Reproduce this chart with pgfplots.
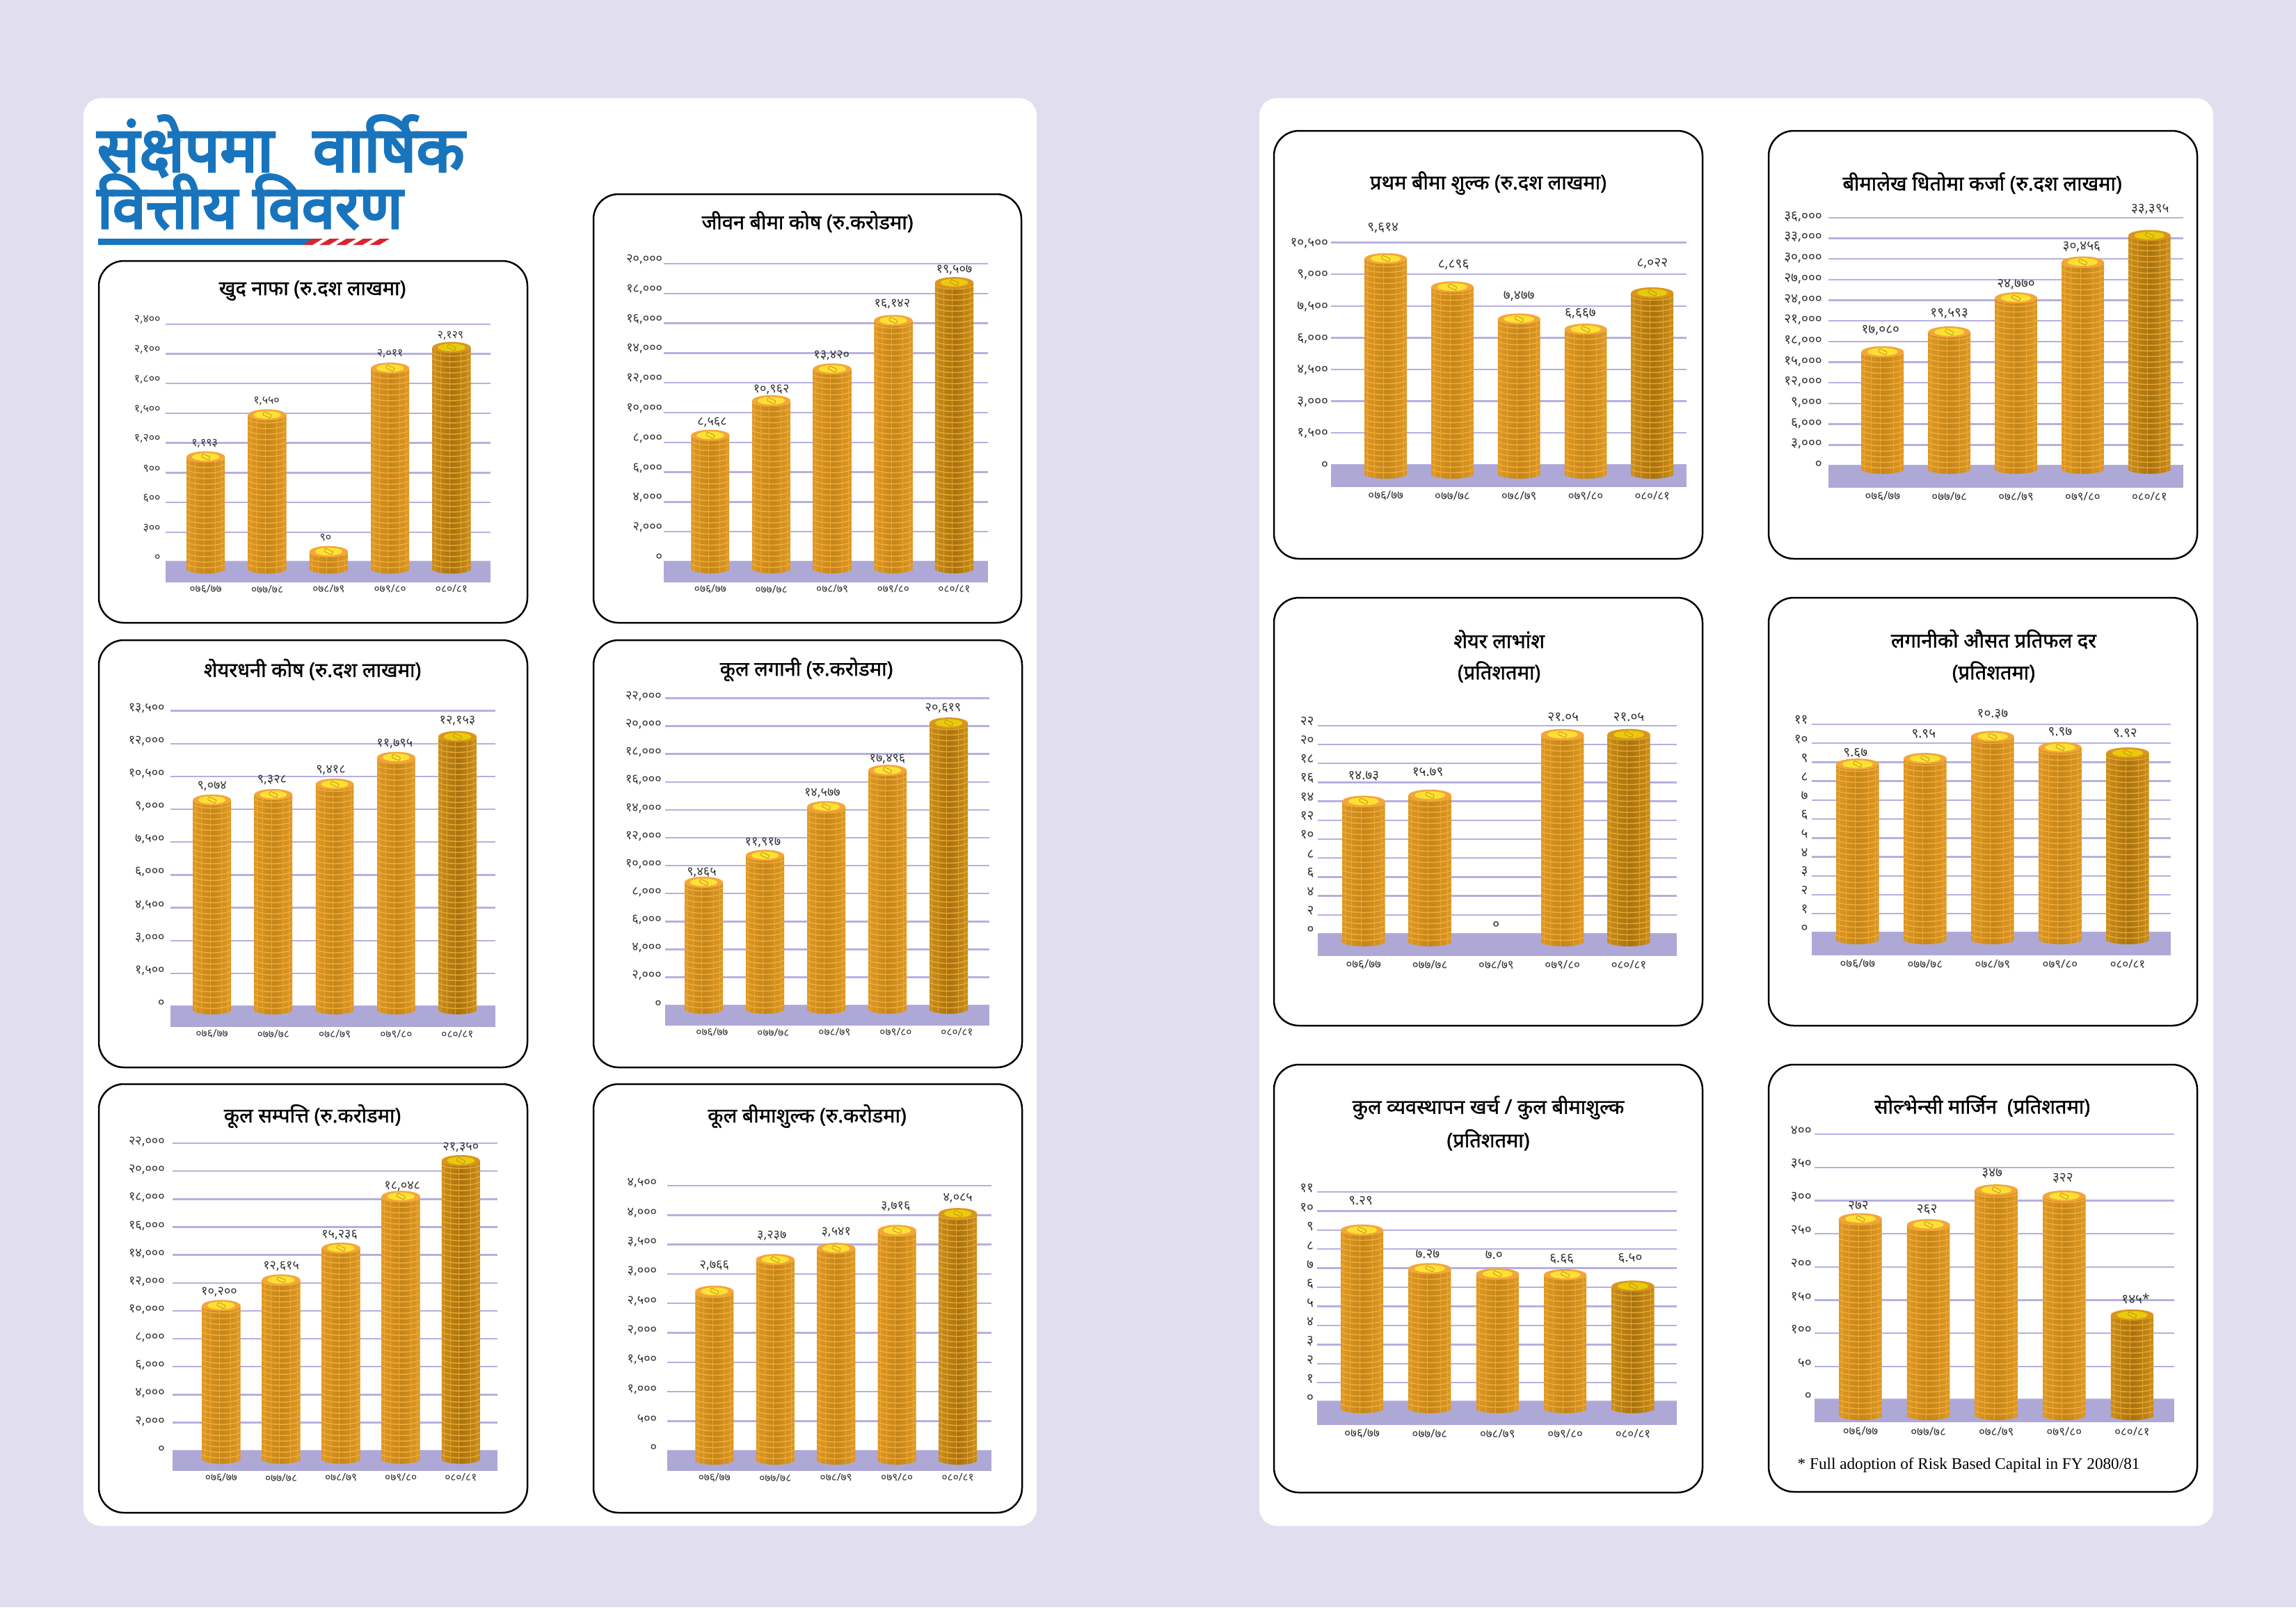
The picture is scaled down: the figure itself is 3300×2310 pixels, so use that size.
\documentclass[border=0pt]{standalone}
\usepackage{fontspec}
\usepackage{pgfplots}
\usepackage{pgfplotstable}
\pgfplotsset{compat=1.18}
\newfontfamily\dev[Script=Devanagari]{Noto Sans}
\newfontfamily\devh[Script=Devanagari,FakeBold=4]{Noto Sans}
\newfontfamily\devt[Script=Devanagari,FakeBold=1.2]{Noto Sans}
\newfontfamily\notefont{Liberation Serif}
\newlength\ux \setlength\ux{0.3pt}
\newcommand\devpx[1]{\dev\fontsize{#1\ux}{#1\ux}\selectfont}
\newcommand\titlepx[1]{\devt\bfseries\fontsize{#1\ux}{#1\ux}\selectfont}
\tikzset{tt/.style={font=\titlepx{29},yshift=-0.8pt}}

\definecolor{pagebg}{HTML}{E1DEEF}
\definecolor{bandc}{HTML}{ADA8D6}
\definecolor{gridc}{HTML}{B5B0E0}
\definecolor{headblue}{HTML}{1874BC}
\definecolor{headred}{HTML}{D9232E}
\definecolor{tickc}{HTML}{333333}
\definecolor{coinM}{HTML}{C4861A}
\definecolor{coinE}{HTML}{DB9826}
\definecolor{ringL}{HTML}{F5AA35}
\definecolor{faceO}{HTML}{F4A63A}
\definecolor{faceI}{HTML}{FDE233}
\definecolor{coinDarkM}{HTML}{A8720F}
\definecolor{coinDarkE}{HTML}{C88D1C}
\definecolor{ringDark}{HTML}{E9A62E}
\definecolor{faceDarkO}{HTML}{D9961F}
\definecolor{faceDarkI}{HTML}{E8CC0A}

% columns: x value dy lx ly lbl  (dy = drawn stack offset, lx ly = label offset, in px)
\pgfplotstableread{
x val dy lx ly lbl
0 1193 -11 -1.5 11 १,१९३
1 1550 -1.5 -1 11.6 १,५५०
2 90 10 -4.5 12 ९०
3 2011 0 0 13 २,०११
4 2129 13 -1.5 9 २,१२९
}\tabnafa
\pgfplotstableread{
x val dy lx ly lbl
0 8568 6 2.5 11 ८,५६८
1 10962 4.5 0 8 १०,९६२
2 13420 -2.5 -1 11.4 १३,४२०
3 16142 9 -1.5 16 १६,१४२
4 19507 -8.6 0 10.6 १९,५०७
}\tabjeevan
\pgfplotstableread{
x val dy lx ly lbl
0 9074 19 0 11.5 ९,०७४
1 9328 18.8 -2 13.5 ९,३२८
2 9418 31 -5.6 11.5 ९,४१८
3 11795 -5.3 -2 11.5 ११,७९५
4 12153 13.4 0 14.6 १२,१५३
}\tabshare
\pgfplotstableread{
x val dy lx ly lbl
0 9465 -5.2 -3 6 ९,४६५
1 11917 -15.7 -3 10 ११,९१७
2 14577 1 -5.6 11 १४,५७७
3 17496 -5.4 0 8 १७,४९६
4 20619 0 -8 13.4 २०,६१९
}\tabinvest
\pgfplotstableread{
x val dy lx ly lbl
0 10200 11.7 -3 11 १०,२००
1 12615 0 0 11 १२,६१५
2 15236 -7 -2 10.7 १५,२३६
3 18048 11 2 6.3 १८,०४८
4 21350 -4 0 11.5 २१,३५०
}\tabassets
\pgfplotstableread{
x val dy lx ly lbl
0 2766 3 0 29 २,७६६
1 3237 8.7 -5 26 ३,२३७
2 3541 -1 0 15 ३,५४१
3 3716 10 -2 26.5 ३,७१६
4 4085 3 0 14 ४,०८५
}\tabpremium
\pgfplotstableread{
x val dy lx ly lbl
0 9614 11.8 -4 36 ९,६१४
1 8896 -7 1.6 23.7 ८,८९६
2 7477 -10 0 25 ७,४७७
3 6667 0 -7.5 14 ६,६६७
4 8022 11 0 34 ८,०२२
}\tabfirst
\pgfplotstableread{
x val dy lx ly lbl
0 17080 2.4 -3 23 १७,०८०
1 19593 6 0 18 १९,५९३
2 24770 3.7 0 11.4 २४,७७०
3 30456 -1 -1.6 14 ३०,४५६
4 33395 8 1 30 ३३,३९५
}\tabloan
\pgfplotstableread{
x val dy lx ly lbl
0 14.73 -2 0 27.7 १४.७३
1 15.79 -7.6 -3 25 १५.७९
2 0 0 0 13 ०
3 21.05 8 1 17.4 २१.०५
4 21.05 8 0 17.4 २१.०५
}\tabdiv
\pgfplotstableread{
x val dy lx ly lbl
0 9.67 -13 -3 8.3 ९.६७
1 9.95 -12.5 -2 27 ९.९५
2 10.37 7.7 0 24.5 १०.३७
3 9.97 2.8 0 15 ९.९७
4 9.92 -3.8 -3.6 20 ९.९२
}\tabreturn
\pgfplotstableread{
x val dy lx ly lbl
0 9.29 0 -2 34 ९.२९
1 7.27 0 -3 13 ७.२७
2 7.0 0 -5 19 ७.०
3 6.66 8 -5 15 ६.६६
4 6.5 -4 -4 32 ६.५०
}\tabexpense
\pgfplotstableread{
x val dy lx ly lbl
0 272 8.6 -3 11.4 २७२
1 262 9.6 -2 14 २६२
2 347 -21.6 -6 16 ३४७
3 322 -6.5 -2 17 ३२२
4 145 -8.6 5 15 १४५*
}\tabsolv

\pgfkeys{/cc/.cd,L/.store in=\chL,R/.store in=\chR,T/.store in=\chT,Z/.store in=\chZ,B/.store in=\chB,
  cA/.store in=\chFirst,cE/.store in=\chLast,ymax/.store in=\chYmax,r/.store in=\chRad,bot/.store in=\chBot,
  fs/.store in=\chFs,xfs/.store in=\chXfs,xsh/.store in=\chXsh,xsh=0,fs=18,xfs=15.5,
  yg/.store in=\chYg,yup/.store in=\chYup,xg/.store in=\chXg,xg=10}

% fixed point result of a float expression, values here overflow plain pgfmath
\newcommand\fpuset[2]{\begingroup\pgfkeys{/pgf/fpu=true,/pgf/fpu/output format=fixed}\pgfmathparse{#2}\xdef#1{\pgfmathresult}\endgroup}

% one coin stack from row #1 of table #2, drawn on the axis at (row, value)
\newcommand\drawstack[2]{%
  \pgfplotstablegetelem{#1}{val}\of{#2}\let\stackval\pgfplotsretval
  \pgfplotstablegetelem{#1}{dy}\of{#2}\let\dyv\pgfplotsretval
  \pgfplotstablegetelem{#1}{lx}\of{#2}\let\lxv\pgfplotsretval
  \pgfplotstablegetelem{#1}{ly}\of{#2}\let\lyv\pgfplotsretval
  \pgfplotstablegetelem{#1}{lbl}\of{#2}\let\lblv\pgfplotsretval
  \fpuset\stackfrac{\stackval/\chYmax}%
  \begin{scope}[shift={(axis cs:#1,\stackval)},x=\ux,y=\ux]
  \ifdim\stackfrac pt>0pt
    \pgfmathsetmacro\yctr{\dyv-8}%
    \pgfmathsetmacro\ybase{-\stackfrac*(\chZ-\chT)-(\chBot-\chZ)+5}%
    \pgfmathsetmacro\nrings{int(floor((\yctr-\ybase)/8))}%
    \pgfmathsetmacro\rctl{0.6*\chRad}%
    \ifnum#1=4
      \colorlet{bodyM}{coinDarkM}\colorlet{bodyE}{coinDarkE}\colorlet{ringc}{ringDark}\colorlet{faceout}{faceDarkO}\colorlet{facein}{faceDarkI}%
    \else
      \colorlet{bodyM}{coinM}\colorlet{bodyE}{coinE}\colorlet{ringc}{ringL}\colorlet{faceout}{faceO}\colorlet{facein}{faceI}%
    \fi
    \shade[left color=bodyE,right color=bodyE,middle color=bodyM]
      (-\chRad,\yctr) -- (-\chRad,\ybase) .. controls (-\rctl,\ybase-6.7) and (\rctl,\ybase-6.7) .. (\chRad,\ybase) -- (\chRad,\yctr) -- cycle;
    \draw[ringc!85!bodyM,line width=0.9\ux]
      (-0.86*\chRad,\yctr) -- (-0.86*\chRad,\ybase-1.5) (-0.55*\chRad,\yctr) -- (-0.55*\chRad,\ybase-3.5)
      (-0.1*\chRad,\yctr) -- (-0.1*\chRad,\ybase-5) (0.5*\chRad,\yctr) -- (0.5*\chRad,\ybase-4) (0.84*\chRad,\yctr) -- (0.84*\chRad,\ybase-1.5);
    \draw[ringc,line width=1.5\ux] \foreach \ir [evaluate=\ir as \yy using \ybase+\ir*8] in {1,...,\nrings}
      { (-\chRad,\yy) .. controls (-\rctl,\yy-6) and (\rctl,\yy-6) .. (\chRad,\yy) };
    \fill[faceout] (0,\yctr) ellipse [x radius=\chRad\ux,y radius=8\ux];
    \fill[facein] (0,\yctr) ellipse [x radius=0.72*\chRad\ux,y radius=5.5\ux];
    \draw[coinM,line width=0.7\ux,rounded corners=1\ux,rotate around={-25:(0,\yctr)}]
      (-6,\yctr-2.5) rectangle (6,\yctr+2.5);
  \fi
  \node[text=tickc,font=\devpx{\chFs}] at (\lxv,\dyv+\lyv) {\lblv};
  \end{scope}}

\newcommand\coinchart[4]{%
  \pgfkeys{/cc/.cd,xsh=0,xg=10,#2}%
  \pgfmathsetmacro\chStep{(\chLast-\chFirst)/4}%
  \pgfmathsetmacro\chXmin{(\chL-\chFirst)/\chStep}%
  \pgfmathsetmacro\chXmax{(\chR-\chFirst)/\chStep}%
  \pgfmathsetmacro\chRatio{(\chB-\chZ)/(\chZ-\chT)}%
  \fpuset\chYmin{-\chRatio*\chYmax}%
  \pgfmathsetlengthmacro\chWd{(\chR-\chL)*0.3pt}%
  \pgfmathsetlengthmacro\chHt{(\chB-\chT)*0.3pt}%
  \pgfmathsetlengthmacro\chBar{1.9*\chRad*0.3pt}%
  \begin{axis}[
    at={(\chL\ux,-\chB\ux)},anchor=south west,
    width=\chWd,height=\chHt,scale only axis,
    xmin=\chXmin,xmax=\chXmax,ymin=\chYmin,ymax=\chYmax,
    clip=false,axis line style={draw=none},major tick length=0pt,
    ymajorgrids,grid style={draw=gridc,line width=2.4\ux},
    xtick={0,1,2,3,4},xticklabels={०७६/७७,०७७/७८,०७८/७९,०७९/८०,०८०/८१},
    ytick={#3},yticklabels={#4},scaled y ticks=false,
    yticklabel style={font=\devpx{\chFs},text=tickc,anchor=east,inner sep=0pt,outer sep=0pt,xshift=-\chYg\ux,yshift=\chYup\ux},
    xticklabel style={font=\devpx{\chXfs},text=tickc,anchor=center,inner sep=0pt,outer sep=0pt,xshift=\chXsh\ux,yshift=-\chXg\ux},
    ]
    \fill[bandc] (axis cs:\chXmin,\chYmin) rectangle (axis cs:\chXmax,0);
    \addplot[ybar,bar width=\chBar,bar shift=0pt,fill=none,draw=none] table[x=x,y=val] {#1};
    \pgfplotsextra{\foreach \rowi in {0,1,2,3,4}{\drawstack{\rowi}{#1}}}
  \end{axis}}

\begin{document}
\begin{tikzpicture}[x=0.3pt,y=-0.3pt]
\path[use as bounding box] (0,0) rectangle (3300,2310);
\fill[pagebg] (0,0) rectangle (3300,2310);
\fill[white,rounded corners=7.5pt] (120,141) rectangle (1490,2193);
\fill[white,rounded corners=7.5pt] (1810,141) rectangle (3181,2193);

% heading
\node[anchor=west,inner sep=0pt,text=headblue,font=\devh\bfseries\fontsize{90\ux}{90\ux}\selectfont] at (139,210) {संक्षेपमा\hspace{17pt}वार्षिक};
\node[anchor=west,inner sep=0pt,text=headblue,font=\devh\bfseries\fontsize{86\ux}{86\ux}\selectfont] at (139,290) {वित्तीय विवरण};
\fill[headblue] (141,343) -- (452,343) -- (436,352) -- (141,352) -- cycle;
\foreach \x in {442,466,490,514,538}
  \fill[headred] (\x+8,343) -- (\x+22,343) -- (\x+7,352) -- (\x-7,352) -- cycle;

% panels
\foreach \a/\b/\c/\d in {142/375/758/895,853/279/1468/895,142/920/758/1534,853/920/1469/1534,
  142/1558/758/2174,853/1558/1469/2174,1831/188/2447/803,2542/188/3158/803,
  1831/859/2447/1474,2542/859/3158/1474,1831/1530/2447/2145,2542/1530/3158/2144}
  \draw[black,line width=0.75pt,fill=white,rounded corners=10.8pt] (\a,\b) rectangle (\c,\d);

\coinchart{\tabnafa}{L=238,R=704.6,T=465.7,Z=807.5,B=836.6,cA=295.7,cE=649,ymax=2400,r=27.5,bot=824.4,fs=16,xfs=15.5,yg=7.5,yup=5.8}
  {0,300,600,900,1200,1500,1800,2100,2400}{०,३००,६००,९००,{१,२००},{१,५००},{१,८००},{२,१००},{२,४००}}
\coinchart{\tabjeevan}{L=954,R=1420.4,T=379,Z=807,B=836.5,cA=1021,cE=1371.5,ymax=20000,r=27.6,bot=824,fs=18,xfs=15.5,yg=2,yup=6}
  {0,2000,4000,6000,8000,10000,12000,14000,16000,18000,20000}{०,{२,०००},{४,०००},{६,०००},{८,०००},{१०,०००},{१२,०००},{१४,०००},{१६,०००},{१८,०००},{२०,०००}}
\coinchart{\tabshare}{L=245.3,R=712,T=1021.6,Z=1446,B=1476,cA=304.7,cE=657.5,ymax=13500,r=27.3,bot=1457.8,fs=18,xfs=15.5,yg=8.8,yup=4}
  {0,1500,3000,4500,6000,7500,9000,10500,12000,13500}{०,{१,५००},{३,०००},{४,५००},{६,०००},{७,५००},{९,०००},{१०,५००},{१२,०००},{१३,५००}}
\coinchart{\tabinvest}{L=955.7,R=1422,T=1003.4,Z=1444.7,B=1473.6,cA=1011.5,cE=1363.5,ymax=22000,r=27.5,bot=1457,fs=18,xfs=15.5,xsh=12,yg=5,yup=2.4}
  {0,2000,4000,6000,8000,10000,12000,14000,16000,18000,20000,22000}{०,{२,०००},{४,०००},{६,०००},{८,०००},{१०,०००},{१२,०००},{१४,०००},{१६,०००},{१८,०००},{२०,०००},{२२,०००}}
\coinchart{\tabassets}{L=247.7,R=714.5,T=1643,Z=2084.7,B=2113.6,cA=318,cE=662.3,ymax=22000,r=27.5,bot=2103.7,fs=18,xfs=15.5,yg=11,yup=2}
  {0,2000,4000,6000,8000,10000,12000,14000,16000,18000,20000,22000}{०,{२,०००},{४,०००},{६,०००},{८,०००},{१०,०००},{१२,०००},{१४,०००},{१६,०००},{१८,०००},{२०,०००},{२२,०००}}
\coinchart{\tabpremium}{L=958.5,R=1424.5,T=1704,Z=2084.7,B=2113.6,cA=1026.8,cE=1376.7,ymax=4500,r=27.5,bot=2105,fs=18,xfs=15.5,yg=14.5,yup=3.6}
  {0,500,1000,1500,2000,2500,3000,3500,4000,4500}{०,५००,{१,०००},{१,५००},{२,०००},{२,५००},{३,०००},{३,५००},{४,०००},{४,५००}}
\coinchart{\tabfirst}{L=1913,R=2423.7,T=348.6,Z=667.8,B=700,cA=1991.7,cE=2374.8,ymax=10500,r=30.3,bot=688,fs=19,xfs=17,yg=4,yup=-1,xg=12.5}
  {0,1500,3000,4500,6000,7500,9000,10500}{०,{१,५००},{३,०००},{४,५००},{६,०००},{७,५००},{९,०००},{१०,५००}}
\coinchart{\tabloan}{L=2627.5,R=3138,T=312.7,Z=669,B=701,cA=2705.8,cE=3089.3,ymax=36000,r=30.3,bot=681,fs=19,xfs=17,yg=8.7,yup=1.2,xg=12.5}
  {0,3000,6000,9000,12000,15000,18000,21000,24000,27000,30000,33000,36000}{०,{३,०००},{६,०००},{९,०००},{१२,०००},{१५,०००},{१८,०००},{२१,०००},{२४,०००},{२७,०००},{३०,०००},{३३,०००},{३६,०००}}
\coinchart{\tabdiv}{L=1893.5,R=2410,T=1042.7,Z=1342,B=1374,cA=1959.8,cE=2341,ymax=22,r=30.7,bot=1360,fs=19,xfs=17,yg=5,yup=6,xg=12.5}
  {0,2,4,6,8,10,12,14,16,18,20,22}{०,२,४,६,८,१०,१२,१४,१६,१८,२०,२२}
\coinchart{\tabreturn}{L=2603.5,R=3120,T=1041,Z=1340.4,B=1373,cA=2669.8,cE=3058,ymax=11,r=30.7,bot=1357,fs=19,xfs=17,yg=5,yup=6,xg=12.5}
  {0,1,2,3,4,5,6,7,8,9,10,11}{०,१,२,३,४,५,६,७,८,९,१०,११}
\coinchart{\tabexpense}{L=1893,R=2410,T=1713,Z=2014.5,B=2048,cA=1957.6,cE=2347,ymax=11,r=30.5,bot=2031,fs=19,xfs=17,yg=5,yup=5,xg=12.5}
  {0,1,2,3,4,5,6,7,8,9,10,11}{०,१,२,३,४,५,६,७,८,९,१०,११}
\coinchart{\tabsolv}{L=2607.6,R=3124.6,T=1630,Z=2011.6,B=2044.3,cA=2674,cE=3064.5,ymax=400,r=30.7,bot=2041,fs=19,xfs=17,yg=4,yup=5,xg=13}
  {0,50,100,150,200,250,300,350,400}{०,५०,१००,१५०,२००,२५०,३००,३५०,४००}

% titles
\node[tt] at (449,415) {खुद नाफा (रु.दश लाखमा)};
\node[tt] at (1160.6,316) {जीवन बीमा कोष (रु.करोडमा)};
\node[tt] at (449,959.5) {शेयरधनी कोष (रु.दश लाखमा)};
\node[tt] at (1159,959.5) {कूल लगानी (रु.करोडमा)};
\node[tt] at (449,1601.5) {कूल सम्पत्ति (रु.करोडमा)};
\node[tt] at (1160,1601.5) {कूल बीमाशुल्क (रु.करोडमा)};
\node[tt] at (2139,260.4) {प्रथम बीमा शुल्क (रु.दश लाखमा)};
\node[tt] at (2849,260.4) {बीमालेख धितोमा कर्जा (रु.दश लाखमा)};
\node[tt] at (2154.6,916) {शेयर लाभांश};
\node[tt] at (2154.6,963) {(प्रतिशतमा)};
\node[tt] at (2865.4,916) {लगानीको औसत प्रतिफल दर};
\node[tt] at (2865.4,963) {(प्रतिशतमा)};
\node[tt] at (2139,1589) {कुल व्यवस्थापन खर्च / कुल बीमाशुल्क};
\node[tt] at (2139,1635.6) {(प्रतिशतमा)};
\node[tt] at (2849,1587) {सोल्भेन्सी मार्जिन \ (प्रतिशतमा)};
\node[anchor=west,inner sep=0pt,font=\notefont\fontsize{23.2\ux}{23.2\ux}\selectfont] at (2583,2106) {* Full adoption of Risk Based Capital in FY 2080/81};
\end{tikzpicture}
\end{document}
